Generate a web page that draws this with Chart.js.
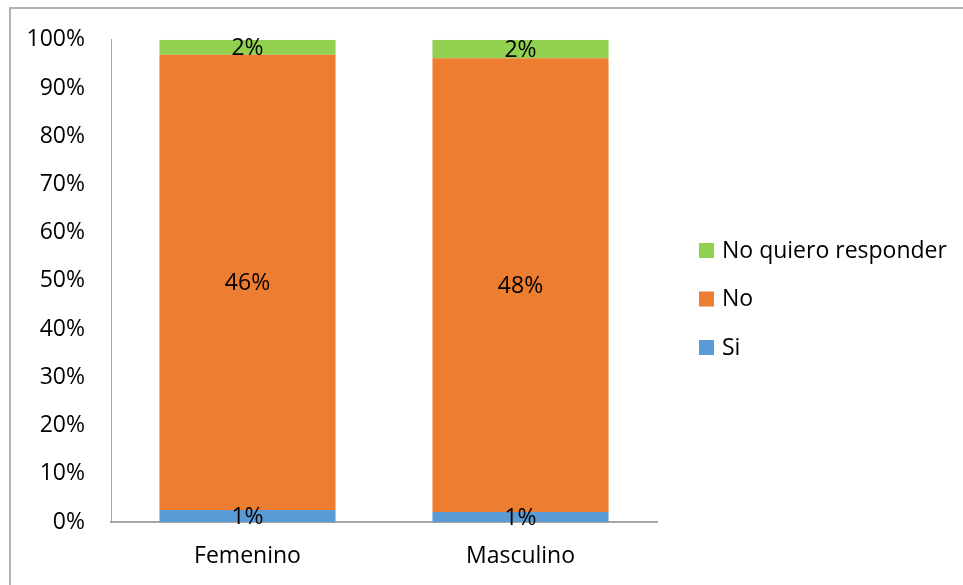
<!DOCTYPE html>
<html>
<head>
<meta charset="utf-8">
<script src="https://cdn.jsdelivr.net/npm/chart.js@4.4.1/dist/chart.umd.min.js"></script>
<style>
  html, body { margin: 0; padding: 0; background: #fff; }
  #wrap { position: relative; width: 963px; height: 585px; overflow: hidden; }
  #frame { position: absolute; left: 9px; top: 7px; width: 1000px; height: 700px;
           border-left: 2px solid #b3b3b3; border-top: 2px solid #b3b3b3; }
  canvas { position: absolute; left: 0; top: 0; }
</style>
</head>
<body>
<div id="wrap">
  <div id="frame"></div>
  <canvas id="stackChart" width="963" height="585"></canvas>
</div>
<script>
// categories and values (percent of all respondents, as labelled)
var categories = ['Femenino', 'Masculino'];
var siValues = [1.2, 1.05];
var noValues = [46, 48];
var nqrValues = [1.5, 1.95];
var yTicks = [0, 10, 20, 30, 40, 50, 60, 70, 80, 90, 100];

var FONT = '"Open Sans", sans-serif';

// share of each bar (bars are 100% stacked)
function share(values, i) {
  var total = siValues[i] + noValues[i] + nqrValues[i];
  return values[i] / total * 100;
}
function toShares(values) {
  return categories.map(function (c, i) { return share(values, i); });
}

var series = [
  { label: 'Si', raw: siValues, color: '#5B9BD5' },
  { label: 'No', raw: noValues, color: '#ED7D31' },
  { label: 'No quiero responder', raw: nqrValues, color: '#92D050' }
];

var data = {
  labels: categories,
  datasets: series.map(function (s) {
    return {
      label: s.label,
      data: toShares(s.raw),
      raw: s.raw,
      backgroundColor: s.color,
      borderWidth: 0,
      categoryPercentage: 1,
      barPercentage: 0.645
    };
  })
};

// labels in the middle of every segment
var segmentLabels = {
  id: 'segmentLabels',
  afterDatasetsDraw: function (chart) {
    var ctx = chart.ctx;
    ctx.save();
    ctx.font = '23px ' + FONT;
    ctx.fillStyle = '#000';
    ctx.textAlign = 'center';
    ctx.textBaseline = 'middle';
    chart.data.datasets.forEach(function (ds, di) {
      chart.getDatasetMeta(di).data.forEach(function (bar, i) {
        var y = (bar.y + bar.base) / 2;
        ctx.fillText(Math.round(ds.raw[i]) + '%', bar.x, y + 1);
      });
    });
    ctx.restore();
  }
};

// legend on the right, top item is the top segment
var sideLegend = {
  id: 'sideLegend',
  afterDraw: function (chart) {
    var ctx = chart.ctx;
    var area = chart.chartArea;
    var x = area.right + 42;
    var y0 = 250;
    var step = 48.5;
    ctx.save();
    ctx.font = '23px ' + FONT;
    ctx.textBaseline = 'middle';
    ctx.textAlign = 'left';
    var list = chart.data.datasets.slice().reverse();
    list.forEach(function (ds, k) {
      var cy = y0 + k * step;
      ctx.fillStyle = ds.backgroundColor;
      ctx.fillRect(x, cy - 7, 15, 15);
      ctx.fillStyle = '#000';
      ctx.fillText(ds.label, x + 23, cy + 1);
    });
    ctx.restore();
  }
};

var options = {
  responsive: false,
  animation: false,
  devicePixelRatio: 1,
  layout: { padding: { left: 0, top: 38, right: 306, bottom: 0 } },
  plugins: {
    legend: { display: false },
    tooltip: { enabled: false }
  },
  scales: {
    x: {
      stacked: true,
      grid: { display: false, drawTicks: false },
      border: { display: true, color: '#A6A6A6', width: 2 },
      ticks: { color: '#000', font: { family: FONT, size: 23 }, padding: 21 },
      afterFit: function (scale) { scale.height = 63; }
    },
    y: {
      stacked: true,
      min: 0,
      max: 100,
      grid: { display: false, drawTicks: false },
      border: { display: true, color: '#A6A6A6', width: 1 },
      afterBuildTicks: function (scale) {
        scale.ticks = yTicks.map(function (v) { return { value: v }; });
      },
      ticks: {
        color: '#000',
        font: { family: FONT, size: 23 },
        padding: 26,
        callback: function (v) { return v + '%'; }
      },
      afterFit: function (scale) { scale.width = 111; }
    }
  }
};

var ctx = document.getElementById('stackChart').getContext('2d');
var stackChart = new Chart(ctx, {
  type: 'bar',
  data: data,
  options: options,
  plugins: [segmentLabels, sideLegend]
});
</script>
</body>
</html>
